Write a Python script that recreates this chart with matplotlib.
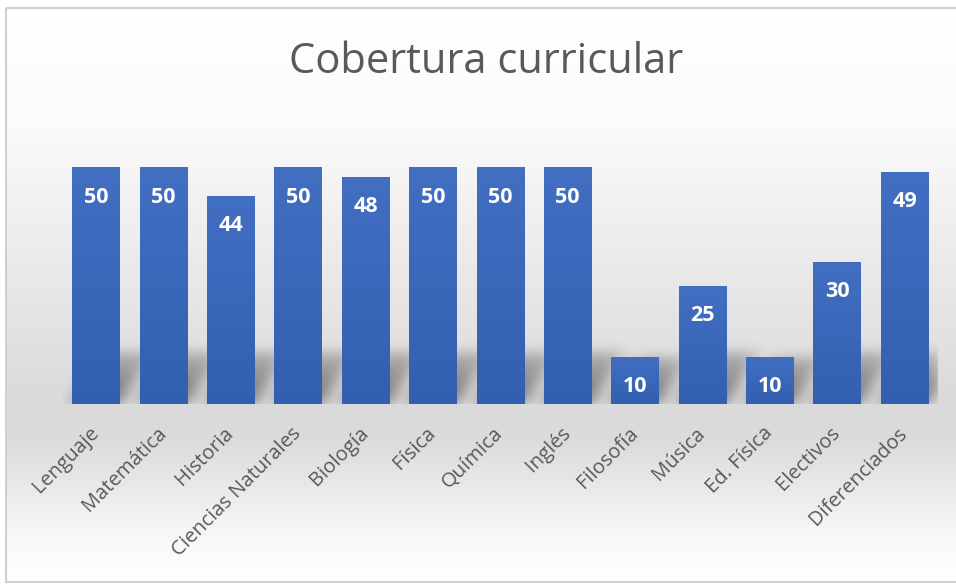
import numpy as np
import matplotlib
matplotlib.use("Agg")
import matplotlib.pyplot as plt
from matplotlib.patches import Rectangle

materias = ["Lenguaje", "Matemática", "Historia", "Ciencias Naturales", "Biología",
            "Física", "Química", "Inglés", "Filosofía", "Música", "Ed. Física",
            "Electivos", "Diferenciados"]
cobertura = [50, 50, 44, 50, 48, 50, 50, 50, 10, 25, 10, 30, 49]
titulo = "Cobertura curricular"

plt.rcParams['font.family'] = ['Open Sans', 'DejaVu Sans']

W, H = 956, 585
fig = plt.figure(figsize=(W / 100, H / 100), dpi=100)

# fondo con degradado (blanco -> gris -> blanco)
bg = fig.add_axes([0, 0, 1, 1])
rows = np.arange(H)
stops_y = [0, 120, 400, 440, 540, 585]
stops_v = [1.0, 0.985, 0.855, 0.86, 0.975, 1.0]
col = np.interp(rows, stops_y, stops_v)
grad = np.repeat(col[:, None], 2, axis=1)
bg.imshow(np.dstack([grad, grad, grad]), aspect='auto', extent=[0, W, H, 0])
bg.set_xlim(0, W)
bg.set_ylim(H, 0)
bg.axis('off')
# marco exterior
bg.add_patch(Rectangle((6, 8), W, H - 11, fill=False, ec='#d0d0d0', lw=1.5))
bg.add_patch(Rectangle((0, 0), W, 7, color='white', lw=0))
bg.add_patch(Rectangle((0, 0), 5, H, color='white', lw=0))
bg.add_patch(Rectangle((0, H - 2), W, 2, color='white', lw=0))

ax = fig.add_axes([0.0652, 0.3094, 0.9162, 0.4855])
ax.patch.set_alpha(0)
x = np.arange(len(materias))
ymax = 60
ax.set_xlim(-0.5, len(materias) - 0.5)
ax.set_ylim(0, ymax)

bw = 0.705

# sombras difusas
nx, ny = 900, 90
ys_top = 19.0
gx = np.linspace(-0.5, len(materias) - 0.5, nx)
gy = np.linspace(0, ys_top, ny)
XX, YY = np.meshgrid(gx, gy)
sh = np.zeros_like(XX)
skew = 0.045
for xi, v in zip(x, cobertura):
    hs = min(v, 11.0)
    xl = xi - bw / 2 + skew * YY
    xr = xi + bw / 2 + skew * YY
    m = (XX >= xl) & (XX <= xr) & (YY <= hs)
    sh = np.maximum(sh, m * (1 - 0.6 * YY / hs))

def blur(a, sigma, axis):
    k = np.arange(-3 * sigma, 3 * sigma + 1)
    k = np.exp(-0.5 * (k / sigma) ** 2)
    k /= k.sum()
    return np.apply_along_axis(lambda r: np.convolve(r, k, mode='same'), axis, a)

sh = blur(sh, 8, 1)
sh = blur(sh, 6, 0)
rgba = np.zeros((ny, nx, 4))
rgba[..., 3] = sh * 0.5
ax.imshow(rgba, origin='lower', aspect='auto',
          extent=[-0.5, len(materias) - 0.5, 0, ys_top], zorder=1)

bars = ax.bar(x, cobertura, width=bw, color='#3a66b8', zorder=2)
vgrad = np.linspace(0, 1, 256)[:, None]
c_top = np.array([0x42, 0x6f, 0xc2]) / 255
c_bot = np.array([0x33, 0x5f, 0xb0]) / 255
img = c_bot[None, None, :] * (1 - vgrad[..., None]) + c_top[None, None, :] * vgrad[..., None]
for b in bars:
    im = ax.imshow(np.repeat(img, 2, axis=1), origin='lower', aspect='auto',
                   extent=[b.get_x(), b.get_x() + b.get_width(), 0, b.get_height()],
                   zorder=3)
    im.set_clip_path(b)

for xi, v in zip(x, cobertura):
    ax.annotate(str(v), (xi, v), xytext=(0, -21.5), textcoords='offset points',
                ha='center', va='center', color='white', fontsize=15.5,
                fontweight='bold', zorder=4)

ax.set_xticks(x)
ax.set_xticklabels(materias, rotation=45, ha='right', va='center',
                   rotation_mode='anchor', fontsize=14.5, color='#595959')
ax.tick_params(axis='x', length=0, pad=19)
ax.set_yticks([])
for s in ax.spines.values():
    s.set_visible(False)

fig.text(486 / W, 1 - 62 / H, titulo, ha='center', va='center', fontsize=30,
         color='#595959')

fig.savefig('out.png', dpi=100)
